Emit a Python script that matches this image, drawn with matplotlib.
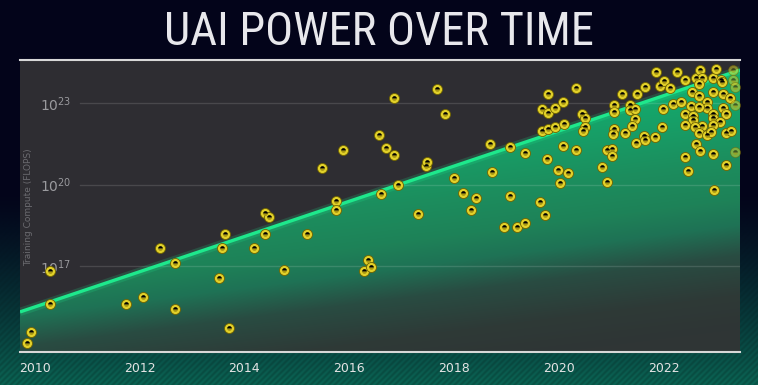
import numpy as np
import matplotlib
matplotlib.use("Agg")
from matplotlib import pyplot as plt
from matplotlib.colors import to_rgb

# training compute of notable models: year and log10(FLOPs)
model_year = [
    2009.85, 2009.93, 2010.30, 2010.30, 2011.75, 2012.06, 2012.40, 2012.67, 2012.67, 2013.63,
    2013.57, 2013.51, 2013.71, 2014.19, 2014.40, 2014.47, 2014.40, 2014.75, 2015.20, 2015.49,
    2015.75, 2015.75, 2015.89, 2016.29, 2016.36, 2016.42, 2016.57, 2016.61, 2016.71, 2016.85,
    2016.85, 2016.94, 2017.31, 2017.46, 2017.49, 2017.68, 2017.83, 2018.00, 2018.18, 2018.33,
    2018.43, 2018.68, 2018.72, 2018.96, 2019.08, 2019.08, 2019.21, 2019.36, 2019.36, 2019.64,
    2019.74, 2019.68, 2019.79, 2019.93, 2020.11, 2019.68, 2019.79, 2019.80, 2019.93, 2020.08,
    2020.33, 2020.44, 2020.51, 2020.51, 2020.47, 2020.08, 2019.77, 2019.98, 2020.18, 2020.03,
    2020.33, 2020.83, 2020.93, 2020.93, 2021.02, 2021.02, 2021.05, 2021.04, 2021.26, 2021.06,
    2021.06, 2021.21, 2021.50, 2021.65, 2021.36, 2021.36, 2021.46, 2021.45, 2021.39, 2021.48,
    2021.62, 2021.64, 2021.84, 2021.97, 2022.00, 2021.85, 2021.93, 2022.01, 2022.13, 2022.25,
    2022.19, 2022.33, 2022.41, 2022.54, 2022.62, 2022.69, 2022.74, 2022.68, 2022.68, 2022.94,
    2023.01, 2023.09, 2023.12, 2022.95, 2023.13, 2023.26, 2022.83, 2022.83, 2022.53, 2022.68,
    2023.14, 2023.19, 2022.41, 2022.56, 2022.56, 2022.94, 2022.94, 2023.08, 2022.94, 2022.73,
    2022.61, 2022.41, 2022.68, 2022.83, 2022.90, 2023.20, 2023.28, 2022.62, 2022.70, 2022.94,
    2022.41, 2023.19, 2022.47, 2022.96,
]
model_log_flops = [
    14.14, 14.56, 16.82, 15.58, 15.58, 15.84, 17.67, 17.10, 15.40, 18.17,
    17.67, 16.55, 14.70, 17.67, 18.94, 18.80, 18.17, 16.84, 18.17, 20.60,
    19.41, 19.06, 21.27, 16.82, 17.22, 16.97, 21.83, 19.66, 21.35, 23.20,
    21.08, 19.97, 18.90, 20.68, 20.82, 23.54, 22.59, 20.23, 19.70, 19.06,
    19.52, 21.50, 20.46, 18.42, 21.39, 19.58, 18.42, 18.59, 21.16, 19.36,
    18.87, 21.98, 22.04, 22.14, 22.24, 22.79, 22.63, 23.33, 22.84, 23.06,
    23.55, 22.59, 22.45, 22.14, 21.98, 21.42, 20.94, 20.54, 20.42, 20.05,
    21.27, 20.66, 20.11, 21.28, 21.30, 21.06, 22.04, 21.86, 21.90, 22.94,
    22.67, 23.33, 23.33, 23.59, 22.93, 22.75, 22.79, 22.43, 22.17, 21.52,
    21.79, 21.65, 21.77, 22.14, 22.80, 24.15, 23.64, 23.82, 23.58, 24.15,
    22.97, 23.06, 23.86, 23.42, 23.94, 24.23, 23.94, 23.71, 23.27, 23.94,
    24.28, 23.86, 23.77, 23.43, 23.34, 23.18, 23.06, 22.84, 22.90, 22.87,
    22.82, 22.62, 22.61, 22.54, 22.37, 22.61, 22.45, 22.32, 22.20, 22.17,
    22.14, 22.21, 21.92, 21.83, 21.93, 21.89, 21.98, 21.50, 21.25, 21.13,
    21.03, 20.73, 20.50, 19.79,
]
# points at the very right edge, drawn faded
edge_year = [2023.32, 2023.32, 2023.37, 2023.36, 2023.36]
edge_log_flops = [24.23, 23.86, 23.59, 22.93, 21.19]

trend_year = [2009.72, 2023.46]
trend_log_flops = [15.30, 24.23]

year_ticks = [2010, 2012, 2014, 2016, 2018, 2020, 2022]
flops_ticks = [1e17, 1e20, 1e23]

W, H = 758, 385
fig = plt.figure(figsize=(W / 100, H / 100), dpi=100)

# background: navy fading to striped teal at the bottom
bg = fig.add_axes([0, 0, 1, 1], zorder=-10)
yy, xx = np.mgrid[0:H, 0:W]
t = np.clip((yy - 190) / 195.0, 0, 1) ** 1.3
navy = np.array(to_rgb("#03041a"))
teal = np.array(to_rgb("#0a5c4d"))
img = navy * (1 - t[..., None]) + teal * t[..., None]
stripes = 1 + 0.10 * t * np.sin(2 * np.pi * (xx + yy) / 6.0)
img = np.clip(img * stripes[..., None], 0, 1)
bg.imshow(img, aspect="auto", extent=[0, 1, 0, 1])
bg.axis("off")

AW, AH = 720, 292
ax = fig.add_axes([20 / W, 33 / H, AW / W, AH / H])
ax.set_facecolor("#2e2d32")
ax.set_yscale("log")
ax.set_xlim(trend_year[0], trend_year[1])
ax.set_ylim(10 ** 13.82, 10 ** 24.60)

trend_flops = [10 ** v for v in trend_log_flops]

# gradient fill under the trend line, slightly tilted so the lower right goes grey
poly = ax.fill_between(trend_year, trend_flops, 10 ** 13.82, facecolor="none", edgecolor="none")
gy, gx = np.mgrid[0:AH, 0:AW]
s = gy + 60 + 0.127 * gx
stops = [160, 250, 290, 316, 346, 385, 420]
cols = np.array([to_rgb(c) for c in
                 ["#12b070", "#1c8e5e", "#1e8258", "#1f7255", "#294c42", "#2e3a37", "#2f3535"]])
fill_img = np.stack([np.interp(s, stops, cols[:, k]) for k in range(3)], axis=-1)
im = ax.imshow(fill_img, aspect="auto", extent=[0, 1, 0, 1], transform=ax.transAxes, zorder=1)
im.set_clip_path(poly.get_paths()[0], transform=ax.transData)

# grid lines start right of the tick labels
for v in flops_ticks:
    ax.axhline(v, xmin=0.083, xmax=1, color="white", alpha=0.13, lw=1, zorder=2)

ax.plot(trend_year, trend_flops, color="#1ee88c", lw=6, alpha=0.18, zorder=3, solid_capstyle="butt")
ax.plot(trend_year, trend_flops, color="#1ee88c", lw=2.4, zorder=3, solid_capstyle="butt")

flops = [10 ** v for v in model_log_flops]
edge_flops = [10 ** v for v in edge_log_flops]
for xs, ys, a in [(model_year, flops, 1.0), (edge_year, edge_flops, 0.5)]:
    ax.plot(xs, ys, "o", ms=7.2, mfc="#e2d12a", mec="#6f6200", mew=0.6, alpha=a, zorder=4)
    ax.plot(xs, ys, "o", ms=3.4, fillstyle="bottom", mfc="#a89612", mfcalt=(0, 0, 0, 0),
            mec="none", alpha=a, zorder=5)

ax.set_xticks(year_ticks)
ax.set_xticklabels([str(y) for y in year_ticks])
ax.set_yticks(flops_ticks)
ax.minorticks_off()
ax.tick_params(axis="x", length=0, pad=7, labelsize=9, labelcolor="#e4e4e4")
ax.tick_params(axis="y", length=0, pad=-37, labelsize=10, labelcolor="#9a9a9e")
for lab in ax.get_yticklabels():
    lab.set_zorder(6)

for side in ["left", "right"]:
    ax.spines[side].set_visible(False)
for side in ["top", "bottom"]:
    ax.spines[side].set_color("#d8d8d8")
    ax.spines[side].set_linewidth(1.5)

ax.text(0.0125, 0.497, "Training Compute (FLOPS)", transform=ax.transAxes, rotation=90,
        ha="center", va="center", fontsize=6.5, color="#6b6b70", zorder=6)

fig.text(0.5, (H - 45) / H, "UAI POWER OVER TIME", ha="center", va="baseline",
         fontsize=33.5, color="#e8e8ec",
         family=["Liberation Sans Narrow", "Roboto Condensed", "Roboto", "DejaVu Sans"])

fig.savefig("out.png", dpi=100, facecolor="#03041a")
